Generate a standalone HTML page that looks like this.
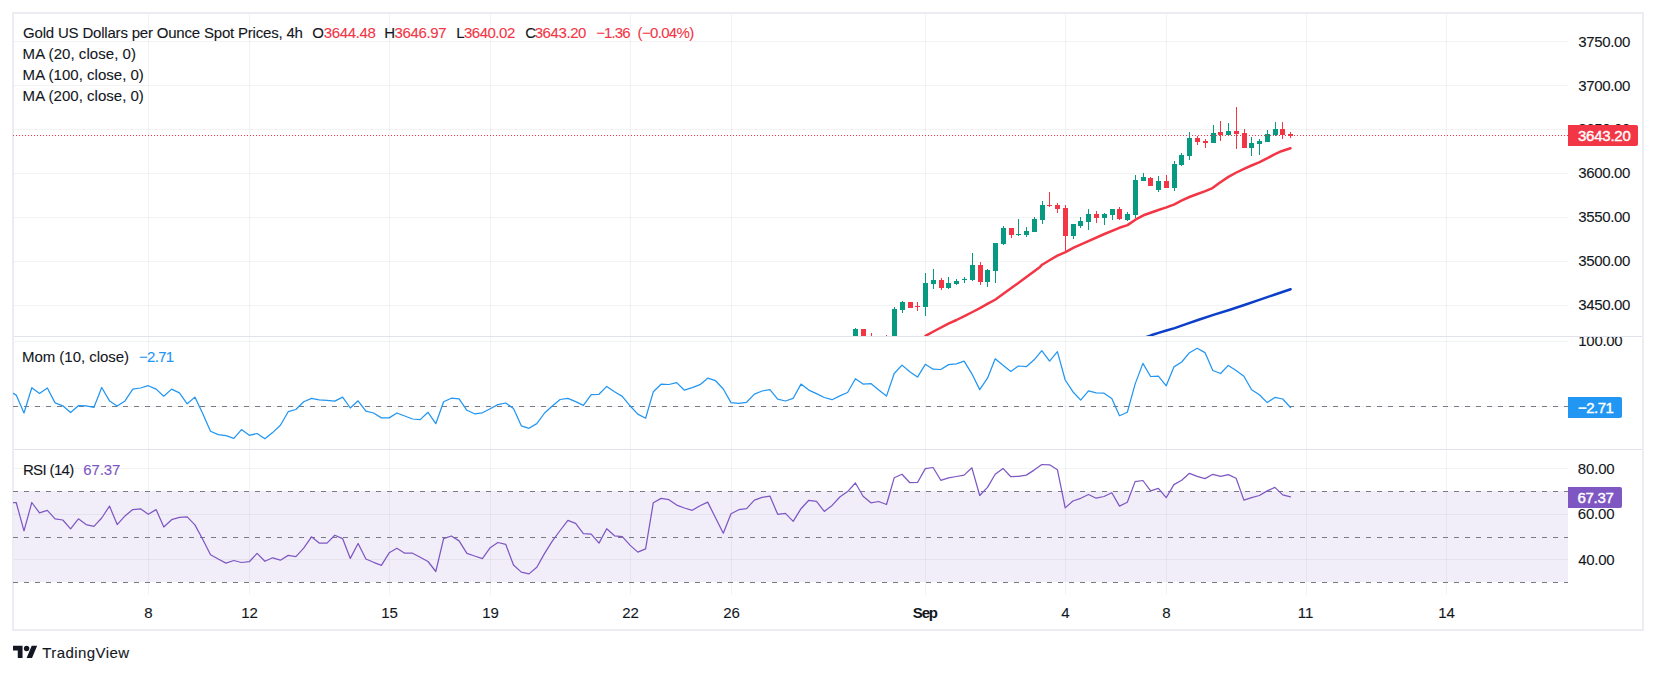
<!DOCTYPE html><html><head><meta charset="utf-8"><title>Gold Spot 4h</title><style>
html,body{margin:0;padding:0;background:#fff}
body{width:1656px;height:674px;position:relative;overflow:hidden;font-family:"Liberation Sans",sans-serif}
.t{position:absolute;white-space:pre;line-height:18px;-webkit-text-stroke:0.1px}
.w{-webkit-text-stroke:0.4px #fff}
.frame{position:absolute;left:12px;top:12px;width:1628px;height:615px;border:2px solid #ecedf2;}
.lbl{position:absolute;left:1568px;height:21px;border-radius:0 2px 2px 0}
.clip{position:absolute;left:1568px;top:337px;width:74px;height:112px;overflow:hidden}
</style></head><body>
<div class="frame"></div>
<svg width="1656" height="674" viewBox="0 0 1656 674" style="position:absolute;left:0;top:0">
<defs><clipPath id="cMain"><rect x="13" y="14" width="1555" height="322"/></clipPath><clipPath id="cMom"><rect x="13" y="337" width="1555" height="112"/></clipPath><clipPath id="cRsi"><rect x="13" y="450" width="1555" height="145"/></clipPath></defs>
<g shape-rendering="crispEdges" fill="#2a2e39" fill-opacity="0.06">
<rect x="148" y="14" width="1" height="581"/>
<rect x="249" y="14" width="1" height="581"/>
<rect x="389" y="14" width="1" height="581"/>
<rect x="490" y="14" width="1" height="581"/>
<rect x="630" y="14" width="1" height="581"/>
<rect x="731" y="14" width="1" height="581"/>
<rect x="925" y="14" width="1" height="581"/>
<rect x="1065" y="14" width="1" height="581"/>
<rect x="1166" y="14" width="1" height="581"/>
<rect x="1306" y="14" width="1" height="581"/>
<rect x="1446" y="14" width="1" height="581"/>
<rect x="14" y="41" width="1554" height="1"/>
<rect x="14" y="85" width="1554" height="1"/>
<rect x="14" y="129" width="1554" height="1"/>
<rect x="14" y="173" width="1554" height="1"/>
<rect x="14" y="217" width="1554" height="1"/>
<rect x="14" y="261" width="1554" height="1"/>
<rect x="14" y="305" width="1554" height="1"/>
<rect x="14" y="341" width="1554" height="1"/>
<rect x="14" y="406" width="1554" height="1"/>
<rect x="14" y="468" width="1554" height="1"/>
<rect x="14" y="514" width="1554" height="1"/>
<rect x="14" y="559" width="1554" height="1"/>
</g>
<rect x="14" y="491" width="1554" height="91" fill="#7e57c2" fill-opacity="0.1" shape-rendering="crispEdges"/>
<g shape-rendering="crispEdges" fill="#e0e3eb"><rect x="14" y="336" width="1628" height="1"/><rect x="14" y="449" width="1628" height="1"/></g>
<g shape-rendering="crispEdges" stroke="#787b86" stroke-width="1" stroke-dasharray="5 6">
<line x1="13" y1="406.5" x2="1568" y2="406.5"/>
<line x1="13" y1="491.5" x2="1568" y2="491.5"/>
<line x1="13" y1="537.5" x2="1568" y2="537.5"/>
<line x1="13" y1="582.5" x2="1568" y2="582.5"/>
</g>
<polyline points="1146.5,337.0 1151.1,335.3 1158.5,332.9 1166.4,330.5 1174.6,328.1 1186.0,324.1 1198.7,319.7 1215.0,314.4 1230.0,309.7 1245.0,304.7 1260.0,299.6 1275.0,294.5 1290.6,289.2" fill="none" stroke="#0c3fc8" stroke-width="2.5" stroke-linejoin="round" stroke-linecap="round" clip-path="url(#cMain)"/>
<polyline points="925.5,335.9 933.5,331.5 948.4,323.6 956.5,320.0 964.4,316.1 972.5,312.0 980.4,307.8 987.4,303.9 995.5,299.5 1004.4,293.0 1012.7,287.1 1021.0,281.1 1030.5,274.0 1040.0,266.9 1042.1,264.7 1049.5,260.3 1057.4,255.6 1065.5,252.2 1073.7,247.6 1088.4,241.1 1104.4,234.0 1119.4,227.8 1127.5,225.1 1135.4,219.7 1143.5,215.3 1158.4,210.0 1166.4,207.4 1174.4,204.3 1181.4,200.6 1189.4,197.0 1197.4,194.0 1205.3,191.1 1212.5,188.1 1220.4,182.2 1228.4,176.9 1236.4,172.5 1244.0,168.8 1251.5,165.5 1259.1,162.3 1267.0,158.3 1275.0,154.2 1281.4,151.2 1290.5,148.2" fill="none" stroke="#f23645" stroke-width="2.5" stroke-linejoin="round" stroke-linecap="round" clip-path="url(#cMain)"/>
<g shape-rendering="crispEdges">
<rect x="1290" y="132" width="1" height="6" fill="#f23645"/>
<rect x="1288" y="134" width="5" height="2" fill="#f23645"/>
<rect x="1282" y="122" width="1" height="17" fill="#f23645"/>
<rect x="1280" y="129" width="5" height="6" fill="#f23645"/>
<rect x="1275" y="122" width="1" height="14" fill="#089981"/>
<rect x="1273" y="129" width="5" height="6" fill="#089981"/>
<rect x="1267" y="130" width="1" height="12" fill="#089981"/>
<rect x="1265" y="134" width="5" height="8" fill="#089981"/>
<rect x="1259" y="139" width="1" height="16" fill="#089981"/>
<rect x="1257" y="141" width="5" height="3" fill="#089981"/>
<rect x="1251" y="137" width="1" height="19" fill="#089981"/>
<rect x="1249" y="143" width="5" height="5" fill="#089981"/>
<rect x="1244" y="129" width="1" height="19" fill="#f23645"/>
<rect x="1242" y="133" width="5" height="15" fill="#f23645"/>
<rect x="1236" y="107" width="1" height="42" fill="#f23645"/>
<rect x="1234" y="131" width="5" height="3" fill="#f23645"/>
<rect x="1228" y="123" width="1" height="12" fill="#089981"/>
<rect x="1226" y="131" width="5" height="4" fill="#089981"/>
<rect x="1220" y="121" width="1" height="20" fill="#f23645"/>
<rect x="1218" y="132" width="5" height="3" fill="#f23645"/>
<rect x="1213" y="125" width="1" height="18" fill="#089981"/>
<rect x="1211" y="133" width="5" height="10" fill="#089981"/>
<rect x="1205" y="139" width="1" height="9" fill="#f23645"/>
<rect x="1203" y="141" width="5" height="2" fill="#f23645"/>
<rect x="1197" y="136" width="1" height="9" fill="#f23645"/>
<rect x="1195" y="138" width="5" height="4" fill="#f23645"/>
<rect x="1189" y="132" width="1" height="28" fill="#089981"/>
<rect x="1187" y="138" width="5" height="18" fill="#089981"/>
<rect x="1181" y="153" width="1" height="13" fill="#089981"/>
<rect x="1179" y="155" width="5" height="10" fill="#089981"/>
<rect x="1174" y="161" width="1" height="30" fill="#089981"/>
<rect x="1172" y="164" width="5" height="24" fill="#089981"/>
<rect x="1166" y="175" width="1" height="13" fill="#f23645"/>
<rect x="1164" y="181" width="5" height="7" fill="#f23645"/>
<rect x="1158" y="176" width="1" height="16" fill="#089981"/>
<rect x="1156" y="181" width="5" height="9" fill="#089981"/>
<rect x="1150" y="177" width="1" height="9" fill="#f23645"/>
<rect x="1148" y="178" width="5" height="8" fill="#f23645"/>
<rect x="1143" y="173" width="1" height="8" fill="#089981"/>
<rect x="1141" y="177" width="5" height="4" fill="#089981"/>
<rect x="1135" y="175" width="1" height="43" fill="#089981"/>
<rect x="1133" y="180" width="5" height="35" fill="#089981"/>
<rect x="1127" y="212" width="1" height="9" fill="#089981"/>
<rect x="1125" y="214" width="5" height="6" fill="#089981"/>
<rect x="1119" y="207" width="1" height="13" fill="#f23645"/>
<rect x="1117" y="209" width="5" height="10" fill="#f23645"/>
<rect x="1112" y="209" width="1" height="11" fill="#089981"/>
<rect x="1110" y="209" width="5" height="6" fill="#089981"/>
<rect x="1104" y="213" width="1" height="12" fill="#089981"/>
<rect x="1102" y="214" width="5" height="4" fill="#089981"/>
<rect x="1096" y="211" width="1" height="12" fill="#f23645"/>
<rect x="1094" y="214" width="5" height="4" fill="#f23645"/>
<rect x="1088" y="209" width="1" height="21" fill="#089981"/>
<rect x="1086" y="214" width="5" height="8" fill="#089981"/>
<rect x="1080" y="217" width="1" height="11" fill="#089981"/>
<rect x="1078" y="221" width="5" height="5" fill="#089981"/>
<rect x="1073" y="224" width="1" height="15" fill="#089981"/>
<rect x="1071" y="224" width="5" height="12" fill="#089981"/>
<rect x="1065" y="205" width="1" height="46" fill="#f23645"/>
<rect x="1063" y="208" width="5" height="28" fill="#f23645"/>
<rect x="1057" y="203" width="1" height="10" fill="#f23645"/>
<rect x="1055" y="205" width="5" height="4" fill="#f23645"/>
<rect x="1049" y="192" width="1" height="15" fill="#f23645"/>
<rect x="1047" y="205" width="5" height="1" fill="#f23645"/>
<rect x="1042" y="201" width="1" height="23" fill="#089981"/>
<rect x="1040" y="205" width="5" height="15" fill="#089981"/>
<rect x="1034" y="217" width="1" height="15" fill="#089981"/>
<rect x="1032" y="219" width="5" height="13" fill="#089981"/>
<rect x="1026" y="227" width="1" height="10" fill="#089981"/>
<rect x="1024" y="231" width="5" height="4" fill="#089981"/>
<rect x="1018" y="219" width="1" height="17" fill="#089981"/>
<rect x="1016" y="234" width="5" height="1" fill="#089981"/>
<rect x="1011" y="228" width="1" height="10" fill="#f23645"/>
<rect x="1009" y="228" width="5" height="7" fill="#f23645"/>
<rect x="1003" y="226" width="1" height="19" fill="#089981"/>
<rect x="1001" y="228" width="5" height="16" fill="#089981"/>
<rect x="995" y="243" width="1" height="40" fill="#089981"/>
<rect x="993" y="243" width="5" height="28" fill="#089981"/>
<rect x="987" y="269" width="1" height="18" fill="#089981"/>
<rect x="985" y="270" width="5" height="12" fill="#089981"/>
<rect x="980" y="262" width="1" height="23" fill="#f23645"/>
<rect x="978" y="265" width="5" height="17" fill="#f23645"/>
<rect x="972" y="253" width="1" height="28" fill="#089981"/>
<rect x="970" y="265" width="5" height="15" fill="#089981"/>
<rect x="964" y="277" width="1" height="6" fill="#089981"/>
<rect x="962" y="279" width="5" height="1" fill="#089981"/>
<rect x="956" y="279" width="1" height="6" fill="#089981"/>
<rect x="954" y="281" width="5" height="3" fill="#089981"/>
<rect x="948" y="277" width="1" height="12" fill="#089981"/>
<rect x="946" y="283" width="5" height="5" fill="#089981"/>
<rect x="941" y="278" width="1" height="12" fill="#f23645"/>
<rect x="939" y="280" width="5" height="8" fill="#f23645"/>
<rect x="933" y="269" width="1" height="20" fill="#089981"/>
<rect x="931" y="280" width="5" height="4" fill="#089981"/>
<rect x="925" y="273" width="1" height="43" fill="#089981"/>
<rect x="923" y="283" width="5" height="24" fill="#089981"/>
<rect x="917" y="302" width="1" height="9" fill="#f23645"/>
<rect x="915" y="306" width="5" height="1" fill="#f23645"/>
<rect x="910" y="302" width="1" height="6" fill="#f23645"/>
<rect x="908" y="302" width="5" height="6" fill="#f23645"/>
<rect x="902" y="301" width="1" height="12" fill="#089981"/>
<rect x="900" y="302" width="5" height="8" fill="#089981"/>
<rect x="894" y="307" width="1" height="29" fill="#089981"/>
<rect x="892" y="309" width="5" height="27" fill="#089981"/>
<rect x="886" y="335" width="1" height="1" fill="#f23645"/>
<rect x="871" y="333" width="1" height="3" fill="#f23645"/>
<rect x="863" y="329" width="1" height="7" fill="#f23645"/>
<rect x="861" y="329" width="5" height="7" fill="#f23645"/>
<rect x="855" y="328" width="1" height="8" fill="#089981"/>
<rect x="853" y="329" width="5" height="7" fill="#089981"/>
</g>
<line x1="13" y1="135.5" x2="1568" y2="135.5" stroke="#f23645" stroke-width="1" stroke-dasharray="1 2" shape-rendering="crispEdges"/>
<polyline points="8.4,390.7 16.2,395.1 24.0,413.0 31.8,387.7 39.5,393.5 47.3,388.0 55.1,402.9 62.8,405.8 70.6,412.5 78.4,405.7 86.1,405.8 93.9,407.4 101.7,387.5 109.5,400.9 117.2,406.0 125.0,400.9 132.8,389.1 140.5,388.0 148.3,385.7 156.1,389.1 163.8,396.2 171.6,389.1 179.4,392.9 187.2,403.8 194.9,397.1 202.7,413.6 210.5,431.2 218.2,434.6 226.0,435.7 233.8,438.3 241.5,429.6 249.3,435.3 257.1,433.5 264.9,438.8 272.6,432.6 280.4,425.3 288.2,411.7 295.9,409.5 303.7,401.8 311.5,398.4 319.2,399.8 327.0,400.3 334.8,401.1 342.6,397.1 350.3,408.0 358.1,400.8 365.9,411.2 373.6,413.0 381.4,417.9 389.2,417.9 396.9,413.0 404.7,416.0 412.5,419.0 420.2,419.6 428.0,412.3 435.8,423.7 443.6,401.8 451.3,398.2 459.1,398.9 466.9,410.3 474.6,413.8 482.4,412.8 490.2,408.7 497.9,404.6 505.7,403.0 513.5,408.5 521.3,425.8 529.0,428.3 536.8,423.6 544.6,413.0 552.3,406.0 560.1,399.5 567.9,398.4 575.6,401.6 583.4,405.4 591.2,394.6 599.0,394.3 606.7,386.4 614.5,391.8 622.3,396.4 630.0,405.8 637.8,414.1 645.6,418.2 653.3,391.8 661.1,384.2 668.9,384.5 676.7,382.6 684.4,390.2 692.2,387.7 700.0,384.7 707.7,378.2 715.5,380.7 723.3,389.0 731.0,402.6 738.8,403.4 746.6,402.3 754.4,394.1 762.1,391.0 769.9,389.6 777.7,399.1 785.4,401.0 793.2,398.3 801.0,384.1 808.8,390.1 816.5,393.6 824.3,397.5 832.1,399.7 839.8,395.9 847.6,392.5 855.4,378.7 863.1,384.1 870.9,383.6 878.7,390.1 886.5,396.1 894.2,373.5 902.0,365.1 909.8,371.8 917.5,377.1 925.3,364.3 933.1,369.2 940.8,369.5 948.6,364.6 956.4,363.8 964.1,361.1 971.9,373.8 979.7,389.6 987.5,378.2 995.2,358.8 1003.0,365.3 1010.8,371.4 1018.5,366.0 1026.3,366.7 1034.1,359.8 1041.8,350.7 1049.6,361.1 1057.4,351.7 1065.2,380.0 1072.9,391.7 1080.7,400.1 1088.5,390.9 1096.2,392.8 1104.0,393.2 1111.8,398.6 1119.5,415.7 1127.3,412.3 1135.1,384.1 1142.9,363.4 1150.6,376.5 1158.4,376.2 1166.2,385.8 1173.9,366.9 1181.7,362.0 1189.5,352.7 1197.2,348.3 1205.0,352.6 1212.8,370.5 1220.6,373.5 1228.3,365.4 1236.1,370.5 1243.9,376.2 1251.6,389.8 1259.4,394.7 1267.2,402.6 1274.9,397.4 1282.7,399.0 1290.5,407.5" fill="none" stroke="#2196f3" stroke-width="1.25" stroke-linejoin="round" stroke-linecap="round" clip-path="url(#cMom)"/>
<polyline points="8.4,503.0 16.2,502.5 24.0,530.9 31.8,502.5 39.5,512.9 47.3,510.4 55.1,518.9 62.8,520.0 70.6,528.9 78.4,518.8 86.1,524.6 93.9,526.4 101.7,518.0 109.5,506.1 117.2,524.6 125.0,515.9 132.8,509.6 140.5,508.8 148.3,514.2 156.1,509.6 163.8,527.0 171.6,519.7 179.4,517.3 187.2,516.9 194.9,524.9 202.7,539.2 210.5,554.8 218.2,559.0 226.0,563.1 233.8,560.5 241.5,562.5 249.3,561.7 257.1,553.4 264.9,561.3 272.6,557.8 280.4,560.2 288.2,555.4 295.9,556.6 303.7,548.1 311.5,536.8 319.2,543.1 327.0,543.1 334.8,535.2 342.6,538.6 350.3,558.4 358.1,543.5 365.9,559.0 373.6,562.3 381.4,565.3 389.2,552.8 396.9,548.3 404.7,553.2 412.5,553.2 420.2,557.3 428.0,561.5 435.8,571.5 443.6,538.6 451.3,536.0 459.1,540.9 466.9,553.4 474.6,556.0 482.4,558.7 490.2,547.7 497.9,542.5 505.7,544.3 513.5,565.0 521.3,572.1 529.0,573.9 536.8,567.2 544.6,553.4 552.3,541.1 560.1,530.5 567.9,520.3 575.6,523.4 583.4,533.7 591.2,534.1 599.0,543.1 606.7,528.7 614.5,535.8 622.3,536.7 630.0,545.1 637.8,552.1 645.6,548.8 653.3,502.7 661.1,498.4 668.9,499.7 676.7,505.1 684.4,508.0 692.2,510.3 700.0,505.8 707.7,502.1 715.5,517.8 723.3,533.2 731.0,513.8 738.8,509.7 746.6,508.7 754.4,500.1 762.1,497.4 769.9,496.1 777.7,514.3 785.4,513.4 793.2,521.4 801.0,508.7 808.8,500.3 816.5,501.4 824.3,511.4 832.1,505.4 839.8,497.0 847.6,491.6 855.4,483.0 863.1,496.2 870.9,502.8 878.7,501.5 886.5,504.5 894.2,477.8 902.0,474.3 909.8,482.7 917.5,482.5 925.3,468.6 933.1,467.5 940.8,480.3 948.6,477.8 956.4,476.5 964.1,475.1 971.9,467.8 979.7,495.5 987.5,487.4 995.2,474.3 1003.0,468.4 1010.8,476.7 1018.5,476.4 1026.3,475.1 1034.1,470.1 1041.8,464.5 1049.6,464.8 1057.4,469.7 1065.2,507.9 1072.9,501.0 1080.7,498.3 1088.5,494.5 1096.2,498.2 1104.0,496.5 1111.8,492.7 1119.5,506.1 1127.3,502.3 1135.1,481.6 1142.9,480.5 1150.6,490.9 1158.4,488.4 1166.2,497.7 1173.9,484.6 1181.7,480.2 1189.5,473.3 1197.2,476.3 1205.0,478.6 1212.8,474.3 1220.6,476.4 1228.3,474.6 1236.1,478.2 1243.9,500.1 1251.6,497.6 1259.4,495.5 1267.2,490.9 1274.9,487.4 1282.7,494.9 1290.5,496.8" fill="none" stroke="#7e57c2" stroke-width="1.25" stroke-linejoin="round" stroke-linecap="round" clip-path="url(#cRsi)"/>
</svg>
<span id="t1" class="t" style="left:23.08px;top:23.80px;color:#131722;font-size:15px;letter-spacing:-0.194px;">Gold US Dollars per Ounce Spot Prices, 4h</span>
<span id="t2" class="t" style="left:312.24px;top:23.80px;color:#131722;font-size:15px;letter-spacing:0.000px;">O</span>
<span id="t3" class="t" style="left:323.83px;top:23.80px;color:#f23645;font-size:15px;letter-spacing:-0.355px;">3644.48</span>
<span id="t4" class="t" style="left:384.21px;top:23.80px;color:#131722;font-size:15px;letter-spacing:0.000px;">H</span>
<span id="t5" class="t" style="left:394.53px;top:23.80px;color:#f23645;font-size:15px;letter-spacing:-0.351px;">3646.97</span>
<span id="t6" class="t" style="left:456.21px;top:23.80px;color:#131722;font-size:15px;letter-spacing:0.000px;">L</span>
<span id="t7" class="t" style="left:463.93px;top:23.80px;color:#f23645;font-size:15px;letter-spacing:-0.480px;">3640.02</span>
<span id="t8" class="t" style="left:525.37px;top:23.80px;color:#131722;font-size:15px;letter-spacing:0.000px;">C</span>
<span id="t9" class="t" style="left:534.63px;top:23.80px;color:#f23645;font-size:15px;letter-spacing:-0.402px;">3643.20</span>
<span id="t10" class="t" style="left:596.18px;top:23.80px;color:#f23645;font-size:15px;letter-spacing:-0.878px;">−1.36</span>
<span id="t11" class="t" style="left:637.55px;top:23.80px;color:#f23645;font-size:15px;letter-spacing:-0.660px;">(−0.04%)</span>
<span id="m1" class="t" style="left:22.61px;top:44.80px;color:#131722;font-size:15px;letter-spacing:0.051px;">MA (20, close, 0)</span>
<span id="m2" class="t" style="left:22.61px;top:65.80px;color:#131722;font-size:15px;letter-spacing:0.022px;">MA (100, close, 0)</span>
<span id="m3" class="t" style="left:22.61px;top:86.80px;color:#131722;font-size:15px;letter-spacing:0.022px;">MA (200, close, 0)</span>
<span id="o1" class="t" style="left:22.01px;top:347.80px;color:#131722;font-size:15px;letter-spacing:-0.034px;">Mom (10, close)</span>
<span id="o2" class="t" style="left:139.08px;top:347.80px;color:#2196f3;font-size:15px;letter-spacing:-0.714px;">−2.71</span>
<span id="r1" class="t" style="left:22.91px;top:460.80px;color:#131722;font-size:15px;letter-spacing:-0.636px;">RSI (14)</span>
<span id="r2" class="t" style="left:83.28px;top:460.80px;color:#7e57c2;font-size:15px;letter-spacing:-0.143px;">67.37</span>
<span id="p0" class="t" style="left:1578.13px;top:32.80px;color:#131722;font-size:15px;letter-spacing:-0.322px;">3750.00</span>
<span id="p1" class="t" style="left:1578.13px;top:76.80px;color:#131722;font-size:15px;letter-spacing:-0.322px;">3700.00</span>
<span id="p2" class="t" style="left:1578.13px;top:119.80px;color:#131722;font-size:15px;letter-spacing:-0.322px;">3650.00</span>
<span id="p3" class="t" style="left:1578.13px;top:163.80px;color:#131722;font-size:15px;letter-spacing:-0.322px;">3600.00</span>
<span id="p4" class="t" style="left:1578.13px;top:207.80px;color:#131722;font-size:15px;letter-spacing:-0.322px;">3550.00</span>
<span id="p5" class="t" style="left:1578.13px;top:251.80px;color:#131722;font-size:15px;letter-spacing:-0.322px;">3500.00</span>
<span id="p6" class="t" style="left:1578.13px;top:295.80px;color:#131722;font-size:15px;letter-spacing:-0.322px;">3450.00</span>
<span id="s0" class="t" style="left:1577.86px;top:459.80px;color:#131722;font-size:15px;letter-spacing:-0.175px;">80.00</span>
<span id="s1" class="t" style="left:1577.78px;top:504.80px;color:#131722;font-size:15px;letter-spacing:-0.168px;">60.00</span>
<span id="s2" class="t" style="left:1578.29px;top:550.80px;color:#131722;font-size:15px;letter-spacing:-0.323px;">40.00</span>
<div class="clip">
<span id="q0" class="t" style="left:10.32px;top:-5.20px;color:#131722;font-size:15px;letter-spacing:-0.303px">100.00</span>
</div>
<span id="x0" class="t" style="left:118.5px;width:60px;text-align:center;top:603.80px;color:#131722;font-size:15px;">8</span>
<span id="x1" class="t" style="left:219.5px;width:60px;text-align:center;top:603.80px;color:#131722;font-size:15px;">12</span>
<span id="x2" class="t" style="left:359.5px;width:60px;text-align:center;top:603.80px;color:#131722;font-size:15px;">15</span>
<span id="x3" class="t" style="left:460.5px;width:60px;text-align:center;top:603.80px;color:#131722;font-size:15px;">19</span>
<span id="x4" class="t" style="left:600.5px;width:60px;text-align:center;top:603.80px;color:#131722;font-size:15px;">22</span>
<span id="x5" class="t" style="left:701.5px;width:60px;text-align:center;top:603.80px;color:#131722;font-size:15px;">26</span>
<span id="x6" class="t" style="left:895.5px;width:60px;text-align:center;top:603.80px;color:#131722;font-size:15px;font-weight:700;letter-spacing:-1.2px;margin-left:-0.7px;-webkit-text-stroke:0;">Sep</span>
<span id="x7" class="t" style="left:1035.5px;width:60px;text-align:center;top:603.80px;color:#131722;font-size:15px;">4</span>
<span id="x8" class="t" style="left:1136.5px;width:60px;text-align:center;top:603.80px;color:#131722;font-size:15px;">8</span>
<span id="x9" class="t" style="left:1275.5px;width:60px;text-align:center;top:603.80px;color:#131722;font-size:15px;">11</span>
<span id="x10" class="t" style="left:1416.5px;width:60px;text-align:center;top:603.80px;color:#131722;font-size:15px;">14</span>
<div class="lbl" style="top:125px;width:70px;background:#f23645"></div>
<div class="lbl" style="top:397px;width:54px;background:#2196f3"></div>
<div class="lbl" style="top:487px;width:54px;background:#7e57c2"></div>
<span id="b1" class="t w" style="left:1577.93px;top:126.80px;color:#fff;font-size:15px;letter-spacing:-0.222px;">3643.20</span>
<span id="b2" class="t w" style="left:1577.88px;top:398.80px;color:#fff;font-size:15px;letter-spacing:-0.473px;">−2.71</span>
<span id="b3" class="t w" style="left:1577.38px;top:488.80px;color:#fff;font-size:15px;letter-spacing:-0.258px;">67.37</span>
<svg style="position:absolute;left:13.1px;top:643.1px" width="24.5" height="19.04" viewBox="0 0 36 28"><path fill="#131722" d="M14 22H7V11H0V4h14v18zM28 22h-8l7.5-18h8L28 22z"/><circle fill="#131722" cx="20" cy="8" r="4"/></svg>
<span id="lg" class="t" style="left:42.19px;top:643.80px;color:#131722;font-size:15px;letter-spacing:0.432px;">TradingView</span>
</body></html>
